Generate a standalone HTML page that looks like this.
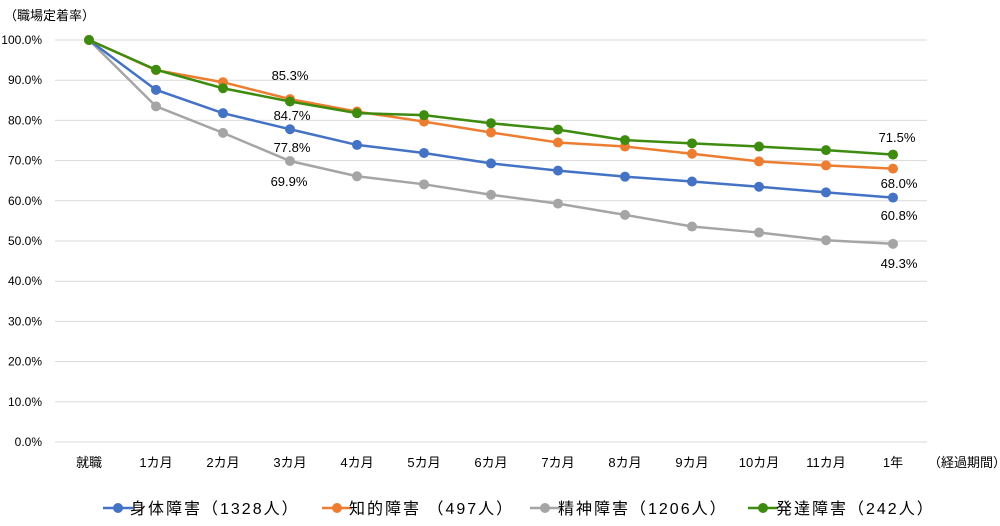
<!DOCTYPE html>
<html><head><meta charset="utf-8"><style>
body{margin:0;background:#fff;}
text{font-family:"Liberation Sans","Noto Sans CJK JP",sans-serif;}
</style></head><body>
<svg width="1000" height="521" xmlns="http://www.w3.org/2000/svg">
<rect width="1000" height="521" fill="#fff"/>
<g id="grid" stroke="#d9d9d9" stroke-width="1"></g>
<g id="yl" font-size="12" fill="#000" text-anchor="end"></g>
<g id="xl" font-size="13" fill="#000" text-anchor="middle"></g>
<text x="4" y="20" font-size="13">（職場定着率）</text>
<text x="928" y="467" font-size="13">（経過期間）</text>
<g id="series"></g>
<g font-size="13" fill="#000" text-anchor="middle">
<text x="290" y="80">85.3%</text>
<text x="292" y="120">84.7%</text>
<text x="292" y="152">77.8%</text>
<text x="289" y="186">69.9%</text>
<text x="897" y="142">71.5%</text>
<text x="899" y="188">68.0%</text>
<text x="899" y="220">60.8%</text>
<text x="899" y="268">49.3%</text>
</g>
<g font-size="16" fill="#000" letter-spacing="2">
<line x1="103" y1="508" x2="133" y2="508" stroke="#4472c4" stroke-width="2.5"/><circle cx="118" cy="508" r="5" fill="#4472c4"/>
<text x="130" y="514">身体障害（1328人）</text>
<line x1="322" y1="508" x2="352" y2="508" stroke="#ed7d31" stroke-width="2.5"/><circle cx="337" cy="508" r="5" fill="#ed7d31"/>
<text x="349" y="514">知的障害 （497人）</text>
<line x1="530" y1="508" x2="560" y2="508" stroke="#a5a5a5" stroke-width="2.5"/><circle cx="545" cy="508" r="5" fill="#a5a5a5"/>
<text x="558" y="514">精神障害（1206人）</text>
<line x1="748" y1="508" x2="778" y2="508" stroke="#3d8b0f" stroke-width="2.5"/><circle cx="763" cy="508" r="5" fill="#3d8b0f"/>
<text x="776" y="514">発達障害（242人）</text>
</g>
</svg>
<script>
const ns="http://www.w3.org/2000/svg";
const x0=89,dx=67,y0=442,k=4.02;
const g=document.getElementById('grid'),yl=document.getElementById('yl'),xl=document.getElementById('xl');
function el(t,a,p,txt){const e=document.createElementNS(ns,t);for(const i in a)e.setAttribute(i,a[i]);if(txt)e.textContent=txt;p.appendChild(e);return e;}
for(let i=0;i<=10;i++){const y=y0-i*10*k;el('line',{x1:55,x2:927,y1:y,y2:y},g);el('text',{x:42,y:y+4},yl,(i*10).toFixed(1)+'%');}
const lab=['就職','1カ月','2カ月','3カ月','4カ月','5カ月','6カ月','7カ月','8カ月','9カ月','10カ月','11カ月','1年'];
lab.forEach((l,i)=>el('text',{x:x0+i*dx,y:467},xl,l));
const S=[
['#a5a5a5',[100,83.5,76.9,69.9,66.1,64.1,61.5,59.3,56.5,53.6,52.1,50.2,49.3]],
['#4472c4',[100,87.6,81.8,77.8,73.9,71.9,69.3,67.5,66.0,64.8,63.5,62.1,60.8]],
['#ed7d31',[100,92.5,89.5,85.3,82.2,79.7,77.0,74.5,73.5,71.7,69.8,68.8,68.0]],
['#3d8b0f',[100,92.6,88.0,84.7,81.8,81.3,79.3,77.7,75.1,74.3,73.5,72.6,71.5]]];
const sg=document.getElementById('series');
S.forEach(([c,d])=>{const pts=d.map((v,i)=>(x0+i*dx)+','+(y0-v*k)).join(' ');
el('polyline',{points:pts,fill:'none',stroke:c,'stroke-width':2.5},sg);
d.forEach((v,i)=>el('circle',{cx:x0+i*dx,cy:y0-v*k,r:5,fill:c},sg));});
</script>
</body></html>
